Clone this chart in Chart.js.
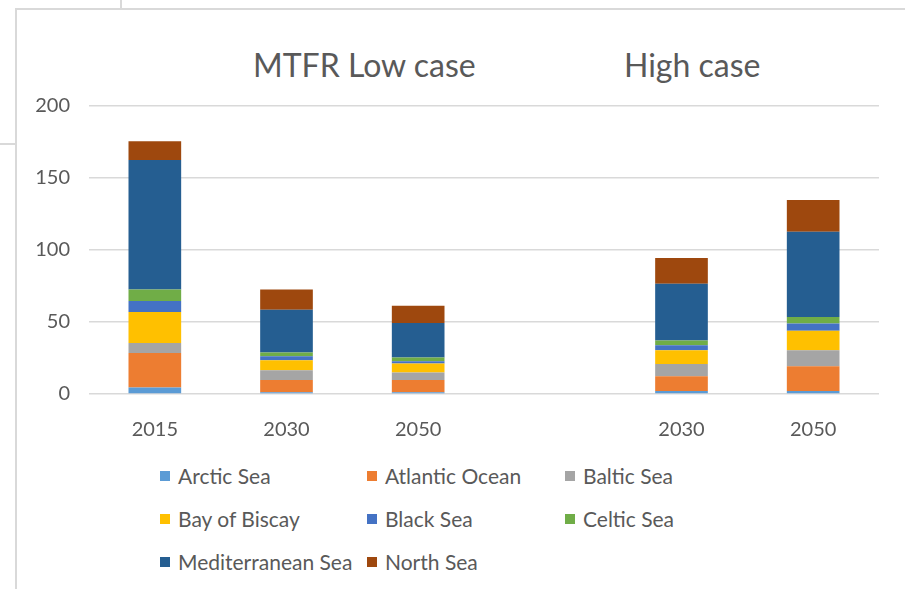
<!DOCTYPE html>
<html>
<head>
<meta charset="utf-8">
<script src="https://cdn.jsdelivr.net/npm/chart.js@4.4.1/dist/chart.umd.min.js"></script>
<style>
  body { margin: 0; background: #fff; font-family: Lato, "Open Sans", sans-serif; }
  .page { position: relative; width: 905px; height: 589px; overflow: hidden; background: #fff; }
  .line { position: absolute; background: #d9d9d9; }
  .case-title { position: absolute; top: 45px; font-size: 32px; color: #595959; white-space: nowrap; }
  .chart-box { position: absolute; left: 16px; top: 75px; width: 880px; height: 375px; }
  .legend { position: absolute; left: 160px; top: 454px; display: grid;
            grid-template-columns: 207px 198px 200px; grid-auto-rows: 43px; }
  .legend-item { display: flex; align-items: center; font-size: 21px; color: #595959; white-space: nowrap; }
  .legend-item span.box { width: 10px; height: 10px; margin-right: 8px; display: inline-block; }
</style>
</head>
<body>
<div class="page">
  <!-- frame lines from the screenshot -->
  <div class="line" style="left:120px; top:0; width:2px; height:10px;"></div>
  <div class="line" style="left:16px; top:8px; width:889px; height:2px;"></div>
  <div class="line" style="left:15px; top:8px; width:2px; height:581px;"></div>
  <div class="line" style="left:0; top:143px; width:16px; height:2px;"></div>

  <div class="case-title" style="left:253px;">MTFR Low case</div>
  <div class="case-title" style="left:624px;">High case</div>

  <div class="chart-box"><canvas id="seaChart"></canvas></div>
  <div class="legend" id="legend"></div>
</div>

<script>
// Categories: low case 2015/2030/2050, empty gap, high case 2030/2050
const years = ["2015", "2030", "2050", "", "2030", "2050"];

const arcticSea        = [4.5, 1.3, 1.3, null, 2.0, 2.0];
const atlanticOcean    = [24.0, 8.5, 8.5, null, 10.4, 17.3];
const balticSea        = [7.0, 6.7, 5.1, null, 8.5, 11.0];
const bayOfBiscay      = [21.5, 7.0, 6.2, null, 9.4, 13.7];
const blackSea         = [7.5, 2.8, 1.6, null, 3.5, 5.0];
const celticSea        = [8.0, 2.5, 2.6, null, 3.3, 4.4];
const mediterraneanSea = [90.0, 29.7, 24.0, null, 39.4, 59.3];
const northSea         = [13.0, 14.0, 12.0, null, 18.0, 22.0];

const yTicks = [0, 50, 100, 150, 200];

const seaNames = ["Arctic Sea", "Atlantic Ocean", "Baltic Sea", "Bay of Biscay",
                  "Black Sea", "Celtic Sea", "Mediterranean Sea", "North Sea"];
const seaValues = [arcticSea, atlanticOcean, balticSea, bayOfBiscay,
                   blackSea, celticSea, mediterraneanSea, northSea];
const seaColors = ["#5B9BD5", "#ED7D31", "#A5A5A5", "#FFC000",
                   "#4472C4", "#70AD47", "#255E91", "#9E480E"];

const datasets = seaNames.map((name, i) => ({
    label: name,
    data: seaValues[i],
    backgroundColor: seaColors[i],
    barPercentage: 0.4,
    categoryPercentage: 1.0
}));

const tickFont = { family: "Lato", size: 20 };

const seaChart = new Chart(document.getElementById("seaChart"), {
    type: "bar",
    data: { labels: years, datasets: datasets },
    options: {
        responsive: true,
        maintainAspectRatio: false,
        animation: false,
        layout: { padding: { top: 15, right: 17, bottom: 0, left: 0 } },
        plugins: {
            legend: { display: false },
            tooltip: { enabled: false }
        },
        scales: {
            x: {
                stacked: true,
                grid: { display: false },
                border: { display: false },
                ticks: { color: "#595959", font: tickFont, padding: 16 },
                afterFit: (scale) => { scale.height = 56; }
            },
            y: {
                stacked: true,
                min: 0,
                max: 200,
                afterBuildTicks: (scale) => { scale.ticks = yTicks.map(v => ({ value: v })); },
                grid: { color: "#d9d9d9", lineWidth: 1.5, drawTicks: false },
                border: { display: false },
                ticks: { color: "#595959", font: tickFont, padding: 19 },
                afterFit: (scale) => { scale.width = 73; }
            }
        }
    }
});

// Legend in three columns, like the original
const legendEl = document.getElementById("legend");
seaChart.data.datasets.forEach(ds => {
    const item = document.createElement("div");
    item.className = "legend-item";
    item.innerHTML = `<span class="box" style="background:${ds.backgroundColor}"></span>${ds.label}`;
    legendEl.appendChild(item);
});
</script>
</body>
</html>
